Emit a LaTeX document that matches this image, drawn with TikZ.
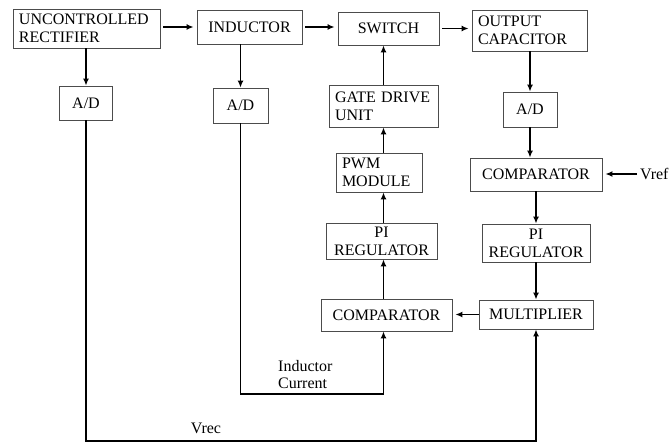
\documentclass[tikz,border=0pt]{standalone}
\usepackage{fontspec}
\setmainfont{Liberation Serif}
\usetikzlibrary{arrows.meta}
\tikzset{
  blk/.style={draw=black!70, line width=0.8pt, inner xsep=6pt, inner ysep=1pt,
    font=\fontsize{16}{18}\selectfont},
  conn/.style={line width=1.5pt, -{Latex[length=7pt,width=6pt]}},
  lbl/.style={font=\fontsize{16}{17}\selectfont, inner sep=0pt},
}
\begin{document}
\begin{tikzpicture}[x=1pt,y=-1pt]
\useasboundingbox (0,0) rectangle (670,444);
% power stage
\node[blk, text width=135pt, minimum height=39pt, align=left] (rect) at (86.5,28.5) {UNCONTROLLED\\RECTIFIER};
\node[blk, text width=93pt, minimum height=34pt, align=center] (ind) at (249.5,27) {INDUCTOR};
\node[blk, text width=89pt, minimum height=33pt, align=center] (sw) at (388.5,28.5) {SWITCH};
\node[blk, text width=103pt, minimum height=41pt, align=left] (cap) at (529.5,30.5) {OUTPUT\\CAPACITOR};
% sensing
\node[blk, text width=41pt, minimum height=34pt, align=center] (adr) at (86,103) {A/D};
\node[blk, text width=43pt, minimum height=35pt, align=center] (adi) at (240.5,105.5) {A/D};
\node[blk, text width=42pt, minimum height=35pt, align=center] (adc) at (530,109.5) {A/D};
% current loop
\node[blk, text width=97pt, minimum height=42pt, align=left] (gdu) at (383.5,106) {GATE DRIVE\\UNIT};
\node[blk, text width=74pt, minimum height=39pt, align=left] (pwm) at (379,172.5) {PWM\\MODULE};
\node[blk, text width=99pt, minimum height=36pt, align=center] (pir) at (381.5,241) {PI\\REGULATOR};
\node[blk, text width=119pt, minimum height=32pt, align=center] (cmpi) at (386.5,315) {COMPARATOR};
% voltage loop
\node[blk, text width=120pt, minimum height=33pt, align=center] (cmpv) at (536,174.5) {COMPARATOR};
\node[blk, text width=96pt, minimum height=38pt, align=center] (pio) at (536,243) {PI\\REGULATOR};
\node[blk, text width=102pt, minimum height=29pt, align=center] (mul) at (536,314.5) {MULTIPLIER};
% labels
\node[lbl, anchor=west] (vref) at (640,174) {Vref};
\node[lbl, anchor=west, align=left] (icur) at (278,375) {Inductor\\Current};
\node[lbl] (vrec) at (206,428) {Vrec};
\coordinate (ib) at (0,394);
\coordinate (vb) at (0,441);
% connectors
\draw[conn, shorten <=3pt, shorten >=3pt] (rect.east |- ind.west) -- (ind.west);
\draw[conn, shorten <=3pt, shorten >=3pt] (ind.east) -- (ind.east -| sw.west);
\draw[conn, shorten <=3pt, shorten >=3pt] (sw.east) -- (sw.east -| cap.west);
\draw[conn] (adr.north |- rect.south) -- (adr.north);
\draw[conn] (adi.north |- ind.south) -- (adi.north);
\draw[conn] (adc.north |- cap.south) -- (adc.north);
\draw[conn] (adc.south) -- (adc.south |- cmpv.north);
\draw[conn] (cmpv.south) -- (pio.north);
\draw[conn] (pio.south) -- (mul.north);
\draw[conn, shorten <=3pt, shorten >=3pt] (vref.west) -- (vref.west -| cmpv.east);
\draw[conn, shorten >=3pt] (mul.west) -- (mul.west -| cmpi.east);
\draw[conn] (gdu.north) -- (gdu.north |- sw.south);
\draw[conn] (pwm.north -| gdu.south) -- (gdu.south);
\draw[conn] (pir.north -| gdu.south) -- (pwm.south -| gdu.south);
\draw[conn] (cmpi.north -| gdu.south) -- (pir.south -| gdu.south);
\draw[conn] (adi.south) -- (adi.south |- ib) -| (cmpi.south -| gdu.south);
\draw[conn] (adr.south) -- (adr.south |- vb) -| (mul.south);
\end{tikzpicture}
\end{document}
